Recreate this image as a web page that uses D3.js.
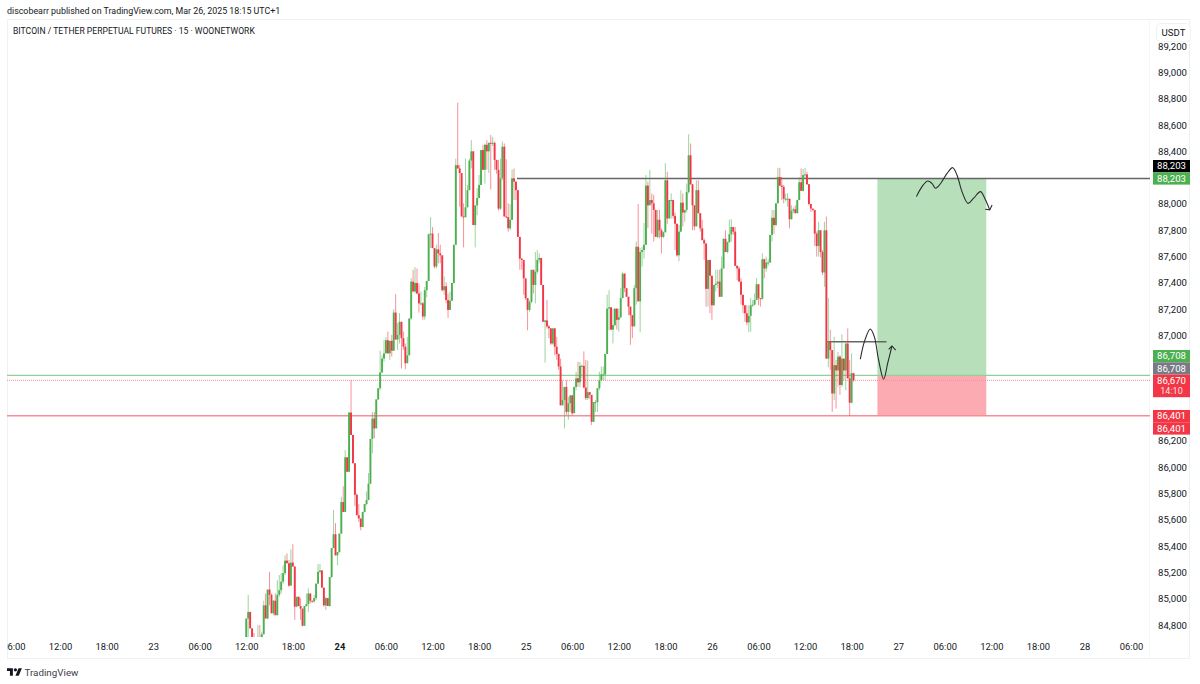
<!DOCTYPE html>
<html>
<head>
<meta charset="utf-8">
<script src="https://cdn.jsdelivr.net/npm/d3@7/dist/d3.min.js"></script>
<style>
html,body{margin:0;padding:0;background:#fff;}
svg{display:block;}
text{font-family:Roboto,sans-serif;}
</style>
</head>
<body>
<svg id="chart" width="1200" height="684"></svg>
<script>
// BTC/USDT perpetual, 15 minute candles starting 23 March 12:00
const seriesStart = Date.UTC(2025, 2, 23, 12, 0);
const barMinutes = 15;
const firstOpen = 84710;
const closes = [
84860,84910,84785,84720,84690,84660,84720,84715,84740,84960,
84860,85080,85040,84900,84995,84885,85040,85075,85140,85205,
85300,85280,85110,85285,85255,84950,85025,84955,84935,84805,
84955,84970,85050,84995,84990,85015,85125,85215,85225,85095,
84960,85015,84955,85175,85395,85500,85340,85365,85505,85745,
85670,86085,85975,86425,86255,86040,85800,85645,85620,85555,
85670,85730,85760,85885,86225,86380,86305,86525,86610,86730,
86835,86875,86975,86875,86970,86895,87185,86980,87015,87115,
86990,86925,86800,86860,87140,87420,87345,87410,87330,87255,
87255,87155,87355,87425,87780,87785,87675,87535,87665,87635,
87620,87355,87385,87280,87205,87275,87410,87700,88305,88280,
88245,87915,87910,87985,88115,88340,88410,87850,88000,88055,
88155,88420,88270,88460,88410,88475,88470,88475,88345,88270,
87975,88205,88445,87915,87910,87825,87890,88205,88180,88115,
87760,87595,87585,87445,87295,87205,87265,87510,87395,87495,
87585,87600,87395,87115,87125,87080,87065,86950,87065,86925,
86870,86775,86480,86520,86620,86430,86495,86555,86420,86620,
86685,86655,86780,86780,86615,86535,86580,86560,86355,86505,
86505,86610,86670,86715,86715,86870,87215,87225,87055,87090,
87215,87130,87150,87295,87480,87370,87305,87230,87165,87080,
87370,87685,87270,87645,87660,87700,88150,88000,88040,88015,
87965,87760,87890,87810,87760,87795,88190,87900,88040,88040,
87920,87860,87620,87800,88020,87945,87965,88100,88380,88160,
88000,87840,88115,87940,87825,87735,87710,87365,87585,87465,
87240,87395,87405,87420,87305,87520,87745,87645,87720,87780,
87835,87800,87540,87520,87420,87320,87240,87180,87110,87160,
87240,87245,87280,87400,87295,87290,87590,87520,87565,87565,
87775,87905,87850,88015,88215,88150,88140,88050,88050,88050,
87895,87960,87970,87940,88040,88175,88110,88230,88235,88160,
88010,87975,87965,87785,87690,87810,87645,87490,87810,86835,
86965,86900,86570,86785,86745,86850,86635,86835,86745,86950,
86685,86500,86725,86670];
const highs = [
84860,85040,84910,84785,84750,84690,84810,84810,84760,84995,
85050,85080,85215,85050,85000,85050,85150,85190,85205,85265,
85340,85355,85305,85385,85425,85255,85025,85025,85015,84935,
84955,85050,85090,85050,84995,85040,85125,85275,85275,85225,
85095,85025,85015,85175,85395,85685,85585,85365,85505,85785,
85865,86140,86085,86430,86670,86255,86040,85810,85730,85620,
85670,85730,85825,85965,86225,86430,86430,86525,86610,86895,
86860,86975,87000,87040,86970,87015,87210,87325,87105,87180,
87115,87040,86950,87000,87140,87445,87510,87530,87520,87405,
87345,87265,87380,87425,87785,87910,87835,87675,87700,87790,
87700,87620,87460,87415,87330,87345,87410,87700,88355,88780,
88305,88245,88015,88355,88155,88355,88495,88410,88000,88130,
88230,88420,88460,88470,88495,88475,88535,88520,88485,88345,
88345,88355,88485,88470,88350,88015,88010,88270,88280,88180,
88115,87760,87600,87560,87445,87295,87280,87510,87510,87645,
87660,87635,87600,87395,87130,87280,87090,87065,87065,87065,
87000,86875,86835,86670,86620,86670,86545,86560,86560,86620,
86735,86810,86810,86790,86890,86825,86820,86580,86535,86505,
86520,86610,86735,86775,86775,86870,87320,87355,87225,87215,
87215,87215,87215,87370,87495,87485,87370,87305,87230,87165,
87395,87725,88010,87675,87685,87865,88230,88180,88270,88090,
88080,87965,87965,87965,87825,87800,88320,88255,88040,88090,
88040,87945,87785,87850,88115,88090,87965,88165,88540,88470,
88160,88000,88190,88190,87940,87890,87750,87710,87585,87585,
87465,87395,87510,87510,87510,87610,87750,87810,87725,87890,
87895,87835,87835,87545,87535,87445,87320,87240,87240,87240,
87295,87280,87330,87445,87400,87295,87635,87595,87610,87590,
87775,87965,87965,88015,88285,88285,88215,88155,88090,88090,
88015,88000,87985,88000,88040,88215,88280,88275,88285,88255,
88160,88000,87975,87950,87800,87875,87810,87660,87875,87915,
87295,87055,86900,87000,86825,86885,86860,87020,86835,86950,
87065,86825,86875,86725];
const lows = [
84710,84710,84785,84710,84650,84620,84660,84710,84715,84740,
84860,84855,84960,84900,84885,84885,84885,85025,85050,85125,
85190,85280,85100,85110,85255,84850,84945,84955,84850,84800,
84805,84950,84910,84975,84980,84980,85000,85120,85200,85095,
84950,84925,84955,84950,85170,85395,85340,85265,85360,85505,
85670,85670,85975,85975,86255,86040,85715,85645,85595,85530,
85555,85665,85720,85760,85880,86115,86230,86305,86520,86595,
86725,86810,86875,86875,86825,86850,86895,86980,86900,86950,
86760,86900,86755,86800,86860,87130,87345,87330,87325,87185,
87240,87130,87130,87300,87425,87675,87675,87520,87520,87560,
87560,87345,87320,87255,87145,87205,87275,87405,87700,88280,
87990,87915,87680,87910,87985,88115,88280,87850,87680,87925,
88055,88155,88270,88165,88270,88245,88120,88450,88270,88240,
87960,87965,88190,87915,87905,87800,87810,87890,88040,88040,
87760,87510,87510,87320,87280,87050,87190,87255,87330,87255,
87480,87560,87395,87115,86805,87065,86990,86940,86940,86860,
86825,86750,86480,86480,86305,86405,86370,86430,86405,86420,
86595,86620,86620,86685,86610,86520,86520,86530,86330,86355,
86430,86430,86595,86660,86670,86670,86870,87050,87055,86950,
87080,87055,87040,87140,87295,87340,87305,87165,86940,86990,
87080,87245,87270,87035,87535,87595,87700,87825,88000,87785,
87725,87760,87750,87750,87635,87750,87795,87860,87900,87900,
87900,87660,87610,87575,87800,87840,87875,87945,88090,88155,
87810,87810,87840,87940,87800,87735,87585,87230,87230,87180,
87130,87240,87345,87370,87305,87305,87520,87645,87635,87715,
87725,87775,87540,87430,87420,87245,87180,87115,87090,87035,
87040,87230,87240,87280,87240,87230,87280,87445,87495,87540,
87565,87725,87785,87840,88015,88145,88040,88015,88030,87990,
87825,87890,87940,87940,87940,88040,88110,88105,88200,88155,
88000,87950,87955,87690,87610,87610,87605,87470,87380,86835,
86770,86750,86430,86520,86455,86620,86560,86620,86670,86595,
86685,86400,86495,86660];

// Axis content
const priceTicks = [89200,89000,88800,88600,88400,88200,88000,87800,87600,87400,87200,87000,
                    86200,86000,85800,85600,85400,85200,85000,84800];
const timeTicks = [
  ["2025-03-22T06:00Z","06:00"],["2025-03-22T12:00Z","12:00"],["2025-03-22T18:00Z","18:00"],["2025-03-23T00:00Z","23"],
  ["2025-03-23T06:00Z","06:00"],["2025-03-23T12:00Z","12:00"],["2025-03-23T18:00Z","18:00"],["2025-03-24T00:00Z","24"],
  ["2025-03-24T06:00Z","06:00"],["2025-03-24T12:00Z","12:00"],["2025-03-24T18:00Z","18:00"],["2025-03-25T00:00Z","25"],
  ["2025-03-25T06:00Z","06:00"],["2025-03-25T12:00Z","12:00"],["2025-03-25T18:00Z","18:00"],["2025-03-26T00:00Z","26"],
  ["2025-03-26T06:00Z","06:00"],["2025-03-26T12:00Z","12:00"],["2025-03-26T18:00Z","18:00"],["2025-03-27T00:00Z","27"],
  ["2025-03-27T06:00Z","06:00"],["2025-03-27T12:00Z","12:00"],["2025-03-27T18:00Z","18:00"],["2025-03-28T00:00Z","28"],
  ["2025-03-28T06:00Z","06:00"]];

// Trade plan levels
const entryPrice = 86708, targetPrice = 88203, stopPrice = 86401, lastPrice = 86670;
const breakLevel = 86964;
const zoneFromBar = 325.3, zoneToBar = 381.4;
const resistanceFromBar = 139.5, breakFromBar = 299.5, breakToBar = 330;

// Hand-drawn projections, as [bar, price]
const upperSketch = [[345.4,88066],[348.3,88142],[351.2,88185],[353.4,88167],[355.2,88130],[357.7,88162],[361.2,88243],
  [364.1,88286],[366.3,88231],[368.9,88104],[372,88015],[374.9,88054],[378.4,88104],[380.6,88054],[383.2,87965]];
const upperArrow = [[380.9,87970],[383.2,87965],[384.4,88003]];
const lowerSketch = [[316.5,86830],[318.6,86964],[321.6,87060],[323.7,87002],[325.9,86825],[328.5,86678],[330.6,86800],[332.8,86931]];
const lowerArrow = [[331.1,86906],[332.8,86931],[334.7,86900]];

// Price tags on the right scale: value, background, text colour, vertical slot
const priceTags = [
  {text:d3.format(",")(targetPrice), bg:"#000000", fg:"#ffffff", top:160, h:12.3},
  {text:d3.format(",")(targetPrice), bg:"#4caf50", fg:"#ffffff", top:172.3, h:12.3},
  {text:d3.format(",")(entryPrice), bg:"#4caf50", fg:"#ffffff", top:350, h:12.3},
  {text:d3.format(",")(entryPrice), bg:"#787b86", fg:"#ffffff", top:362.3, h:12.3},
  {text:d3.format(",")(lastPrice), sub:"14:10", bg:"#f23645", fg:"#ffffff", top:374.6, h:22.6},
  {text:d3.format(",")(stopPrice), bg:"#f23645", fg:"#ffffff", top:410, h:12.3},
  {text:d3.format(",")(stopPrice), bg:"#f23645", fg:"#ffffff", top:422.3, h:12.3}];

const GREEN = "#4caf50", RED = "#f23645", INK = "#131722";
const plot = {left:7, right:1150, top:20, bottom:637};

const barTime = i => new Date(seriesStart + i * barMinutes * 60000);
const x = d3.scaleUtc()
  .domain([new Date("2025-03-22T12:00Z"), new Date("2025-03-28T06:00Z")])
  .range([60, 1131]);
const y = d3.scaleLinear().domain([84800, 89200]).range([626.4, 47.4]);

const bars = closes.map((c, i) => ({
  i, close:c, open:i ? closes[i-1] : firstOpen, high:highs[i], low:lows[i]
}));

const svg = d3.select("#chart");
const defs = svg.append("defs");
defs.append("clipPath").attr("id","plotClip").append("rect")
  .attr("x",plot.left).attr("y",plot.top).attr("width",plot.right-plot.left).attr("height",plot.bottom-plot.top);
defs.append("clipPath").attr("id","timeClip").append("rect")
  .attr("x",plot.left).attr("y",plot.bottom).attr("width",plot.right-plot.left).attr("height",22);

// Page header and frame
svg.append("text").attr("x",7).attr("y",14).attr("font-size",8.87).attr("fill",INK)
  .text("discobearr published on TradingView.com, Mar 26, 2025 18:15 UTC+1");
svg.append("rect").attr("x",7.5).attr("y",19.5).attr("width",1182).attr("height",639)
  .attr("fill","none").attr("stroke","#f0f1f3");
svg.append("line").attr("x1",1149.5).attr("x2",1149.5).attr("y1",20).attr("y2",658).attr("stroke","#f5f6f8");
svg.append("text").attr("x",13).attr("y",33.5).attr("font-size",8.6).attr("fill",INK)
  .text("BITCOIN / TETHER PERPETUAL FUTURES \u00b7 15 \u00b7 WOONETWORK");

const plotG = svg.append("g").attr("clip-path","url(#plotClip)");

// Position zones sit under the candles
plotG.append("rect").attr("x",x(barTime(zoneFromBar))).attr("width",x(barTime(zoneToBar))-x(barTime(zoneFromBar)))
  .attr("y",y(targetPrice)).attr("height",y(entryPrice)-y(targetPrice)).attr("fill","#b7dfb9");
plotG.append("rect").attr("x",x(barTime(zoneFromBar))).attr("width",x(barTime(zoneToBar))-x(barTime(zoneFromBar)))
  .attr("y",y(entryPrice)).attr("height",y(stopPrice)-y(entryPrice)).attr("fill","#fbabb1");

// Horizontal levels
plotG.append("line").attr("x1",plot.left).attr("x2",plot.right).attr("y1",y(entryPrice)).attr("y2",y(entryPrice))
  .attr("stroke","#93d096").attr("stroke-width",1.2);
plotG.append("line").attr("x1",plot.left).attr("x2",plot.right).attr("y1",y(stopPrice)).attr("y2",y(stopPrice))
  .attr("stroke","#f88d96").attr("stroke-width",1.6);
plotG.append("line").attr("x1",plot.left).attr("x2",plot.right).attr("y1",y(lastPrice)).attr("y2",y(lastPrice))
  .attr("stroke","#f58f98").attr("stroke-width",1).attr("stroke-dasharray","1 1");
plotG.append("line").attr("x1",x(barTime(resistanceFromBar))).attr("x2",plot.right).attr("y1",y(targetPrice)).attr("y2",y(targetPrice))
  .attr("stroke","#666666").attr("stroke-width",1.5);
plotG.append("line").attr("x1",x(barTime(breakFromBar))).attr("x2",x(barTime(breakToBar))).attr("y1",y(breakLevel)).attr("y2",y(breakLevel))
  .attr("stroke","#666666").attr("stroke-width",1.5);

// Candles
const candle = plotG.append("g").selectAll("g").data(bars).join("g")
  .attr("fill",d => d.close >= d.open ? GREEN : RED)
  .attr("stroke",d => d.close >= d.open ? GREEN : RED);
candle.append("line")
  .attr("x1",d => x(barTime(d.i))).attr("x2",d => x(barTime(d.i)))
  .attr("y1",d => y(d.high)).attr("y2",d => y(d.low))
  .attr("stroke-width",1).attr("stroke-opacity",0.55);
candle.append("rect")
  .attr("x",d => x(barTime(d.i))-0.95).attr("width",1.9)
  .attr("y",d => y(Math.max(d.open,d.close)))
  .attr("height",d => Math.max(1, Math.abs(y(d.open)-y(d.close))))
  .attr("stroke","none");

// Hand-drawn projected paths
const sketch = d3.line().x(d => x(barTime(d[0]))).y(d => y(d[1]));
const smooth = d3.line().x(d => x(barTime(d[0]))).y(d => y(d[1])).curve(d3.curveCatmullRom);
[[upperSketch,upperArrow],[lowerSketch,lowerArrow]].forEach(([path,arrow]) => {
  plotG.append("path").attr("d",smooth(path)).attr("fill","none").attr("stroke","#2a2a2e").attr("stroke-width",1.1);
  plotG.append("path").attr("d",sketch(arrow)).attr("fill","none").attr("stroke","#2a2a2e").attr("stroke-width",1.1);
});

// Right price scale
const yAxis = d3.axisRight(y).tickValues(priceTicks).tickFormat(d3.format(",")).tickSize(0).tickPadding(0);
const yG = svg.append("g").attr("transform","translate(1172.5,0)").call(yAxis);
yG.select(".domain").remove();
yG.selectAll("text").attr("font-family","Roboto,sans-serif").attr("font-size",9.6).attr("fill",INK).attr("dy","0.32em")
  .attr("text-anchor","middle").attr("transform","translate(0,-1.4)");

// Bottom time scale
const timeScale = d3.axisBottom(x).tickValues(timeTicks.map(d => new Date(d[0])))
  .tickFormat((d,i) => timeTicks[i][1]).tickSize(0).tickPadding(0);
const xG = svg.append("g").attr("clip-path","url(#timeClip)").append("g").attr("transform","translate(0,643.5)").call(timeScale);
xG.select(".domain").remove();
xG.selectAll("text").attr("font-family","Roboto,sans-serif").attr("font-size",9.4).attr("fill",INK)
  .attr("font-weight",(d,i) => timeTicks[i][1] === "24" ? 700 : 400);

// Currency button
svg.append("rect").attr("x",1156.5).attr("y",23.5).attr("width",34).attr("height",18).attr("rx",4)
  .attr("fill","#fff").attr("stroke","#f0f1f3");
svg.append("text").attr("x",1173.5).attr("y",36).attr("text-anchor","middle").attr("font-size",9.6).attr("fill",INK).text("USDT");

// Tags over the scale
const tag = svg.append("g").selectAll("g").data(priceTags).join("g");
tag.append("rect").attr("x",1153).attr("width",37).attr("y",d => d.top).attr("height",d => d.h).attr("fill",d => d.bg);
tag.append("text").attr("x",1171.5).attr("y",d => d.top+9.4).attr("text-anchor","middle").attr("font-size",9.6)
  .attr("fill",d => d.fg).text(d => d.text);
tag.filter(d => d.sub).append("text").attr("x",1171.5).attr("y",d => d.top+19.6).attr("text-anchor","middle").attr("font-size",9)
  .attr("fill","#ffe0e3").text(d => d.sub);

// Footer brand mark
const brand = svg.append("g").attr("transform","translate(7,666.5) scale(0.42)").attr("fill","#131722");
brand.append("path").attr("d","M14 22H7V11H0V4h14v18zM28 22h-8l7.5-18h8L28 22z");
brand.append("circle").attr("cx",20).attr("cy",8).attr("r",4);
svg.append("text").attr("x",24.5).attr("y",675.5).attr("font-size",9.8).attr("fill","#3a3e4a").text("TradingView");
</script>
</body>
</html>
